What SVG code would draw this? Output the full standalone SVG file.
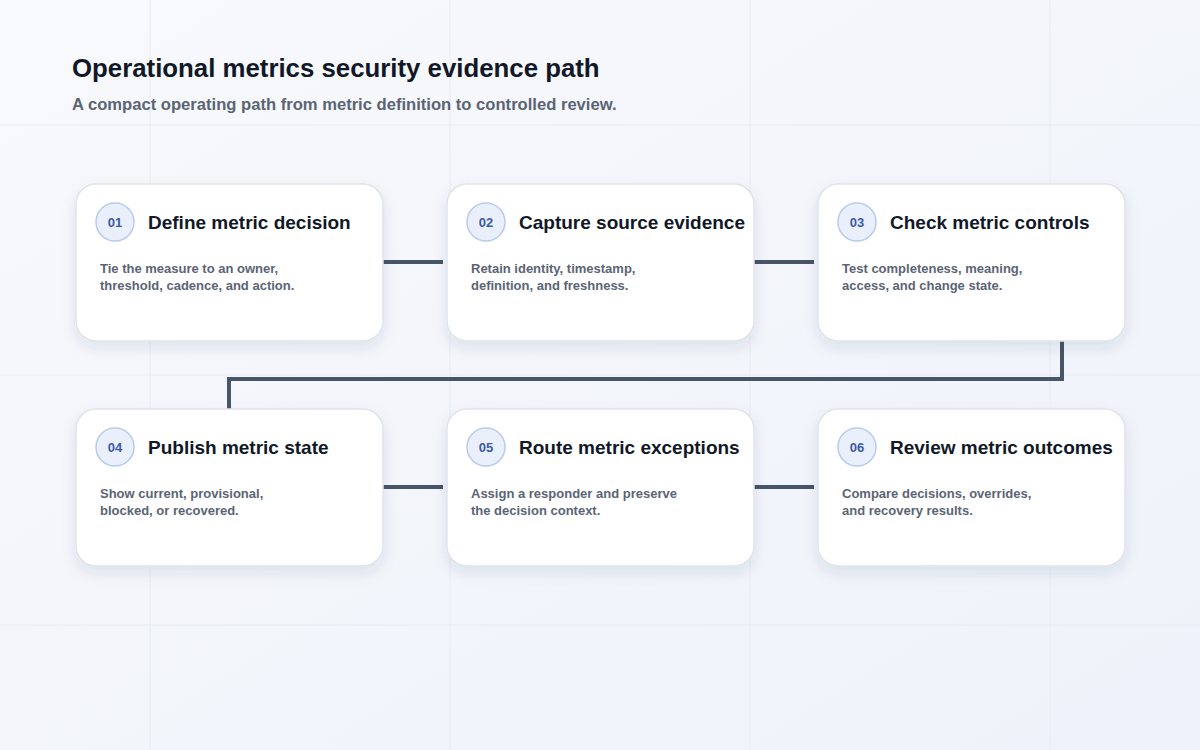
<svg xmlns="http://www.w3.org/2000/svg" width="1200" height="750" viewBox="0 0 1200 750">
<defs>
<linearGradient id="bg" x1="0" y1="0" x2="1" y2="1"><stop offset="0" stop-color="#f8f9fc"/><stop offset="1" stop-color="#eef2fa"/></linearGradient>
<filter id="sh" x="-20%" y="-20%" width="140%" height="150%"><feDropShadow dx="0" dy="6" stdDeviation="7" flood-color="#1e2a4a" flood-opacity="0.10"/></filter>
<style>
.card{fill:#fff;stroke:#dfe3ec;stroke-width:1.5;filter:url(#sh)}
.badge{fill:#eaf0fb;stroke:#b9cbec;stroke-width:1.5}
.num{font:bold 13px "Liberation Sans",Arial,sans-serif;fill:#3a5aa8;text-anchor:middle}
.ttl{font:bold 19px "Liberation Sans",Arial,sans-serif;fill:#111827}
.body{font:bold 13px "Liberation Sans",Arial,sans-serif;fill:#5b6475}
.conn{fill:none;stroke:#475569;stroke-width:4}
.grid{stroke:#e6eaf2;stroke-width:1}
</style>
</defs>
<rect width="1200" height="750" fill="url(#bg)"/>
<g class="grid">
<line x1="150" y1="0" x2="150" y2="750"/><line x1="450" y1="0" x2="450" y2="750"/><line x1="750" y1="0" x2="750" y2="750"/><line x1="1050" y1="0" x2="1050" y2="750"/>
<line x1="0" y1="125" x2="1200" y2="125"/><line x1="0" y1="375" x2="1200" y2="375"/><line x1="0" y1="625" x2="1200" y2="625"/>
</g>
<text x="72" y="77" style="font:bold 25.8px 'Liberation Sans',Arial,sans-serif;fill:#111827">Operational metrics security evidence path</text>
<text x="72" y="110" style="font:bold 16.6px 'Liberation Sans',Arial,sans-serif;fill:#5b6475">A compact operating path from metric definition to controlled review.</text>
<g id="connectors">
<line class="conn" x1="383" y1="262" x2="443" y2="262"/>
<line class="conn" x1="754" y1="262" x2="814" y2="262"/>
<polyline class="conn" points="1062,341 1062,379 229,379 229,409"/>
<line class="conn" x1="383" y1="487" x2="443" y2="487"/>
<line class="conn" x1="754" y1="487" x2="814" y2="487"/>
</g>
<g id="n1"><rect class="card" x="76" y="184" width="307" height="157" rx="20"/><circle class="badge" cx="115" cy="222" r="19"/><text class="num" x="115" y="227">01</text><text class="ttl" x="148" y="229">Define metric decision</text><text class="body" x="100" y="273">Tie the measure to an owner,</text><text class="body" x="100" y="290">threshold, cadence, and action.</text></g>
<g id="n2"><rect class="card" x="447" y="184" width="307" height="157" rx="20"/><circle class="badge" cx="486" cy="222" r="19"/><text class="num" x="486" y="227">02</text><text class="ttl" x="519" y="229">Capture source evidence</text><text class="body" x="471" y="273">Retain identity, timestamp,</text><text class="body" x="471" y="290">definition, and freshness.</text></g>
<g id="n3"><rect class="card" x="818" y="184" width="307" height="157" rx="20"/><circle class="badge" cx="857" cy="222" r="19"/><text class="num" x="857" y="227">03</text><text class="ttl" x="890" y="229">Check metric controls</text><text class="body" x="842" y="273">Test completeness, meaning,</text><text class="body" x="842" y="290">access, and change state.</text></g>
<g id="n4"><rect class="card" x="76" y="409" width="307" height="157" rx="20"/><circle class="badge" cx="115" cy="447" r="19"/><text class="num" x="115" y="452">04</text><text class="ttl" x="148" y="454">Publish metric state</text><text class="body" x="100" y="498">Show current, provisional,</text><text class="body" x="100" y="515">blocked, or recovered.</text></g>
<g id="n5"><rect class="card" x="447" y="409" width="307" height="157" rx="20"/><circle class="badge" cx="486" cy="447" r="19"/><text class="num" x="486" y="452">05</text><text class="ttl" x="519" y="454">Route metric exceptions</text><text class="body" x="471" y="498">Assign a responder and preserve</text><text class="body" x="471" y="515">the decision context.</text></g>
<g id="n6"><rect class="card" x="818" y="409" width="307" height="157" rx="20"/><circle class="badge" cx="857" cy="447" r="19"/><text class="num" x="857" y="452">06</text><text class="ttl" x="890" y="454">Review metric outcomes</text><text class="body" x="842" y="498">Compare decisions, overrides,</text><text class="body" x="842" y="515">and recovery results.</text></g>
</svg>
